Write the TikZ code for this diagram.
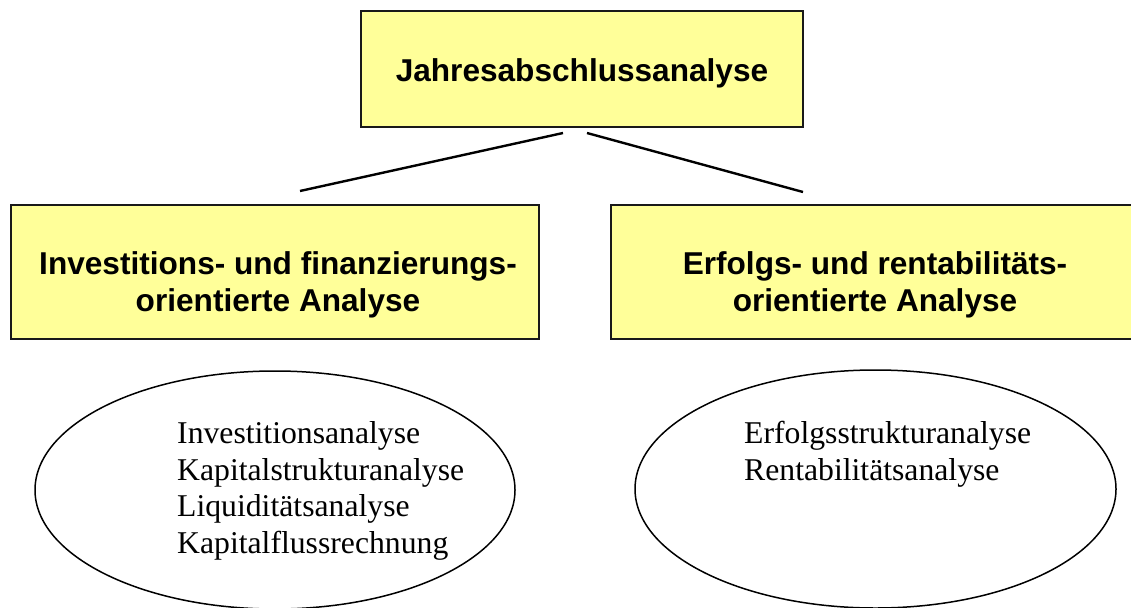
\documentclass[tikz,border=0pt]{standalone}
\usepackage{fontspec}
\setmainfont{Liberation Serif}
\setsansfont{Liberation Sans}
\usetikzlibrary{shapes.geometric}
\definecolor{boxyellow}{RGB}{255,255,153}
\begin{document}
\begin{tikzpicture}[x=1pt,y=-1pt,
  yellowbox/.style={draw=black!90, line width=2.6pt, fill=boxyellow, rectangle, inner sep=0pt},
  boxtext/.style={font=\sffamily\bfseries\fontsize{31.6}{37}\selectfont, align=center, inner sep=0pt},
  oval/.style={draw=black, line width=1.5pt, ellipse, inner sep=0pt},
  itemtext/.style={font=\fontsize{31.7}{36.5}\selectfont, anchor=base west, inner sep=0pt},
  conn/.style={line width=2.4pt}]
\useasboundingbox (0,0) rectangle (1131,607);
\begin{scope}
\clip (0,0) rectangle (1131,607);
% boxes
\node[yellowbox, minimum width=442pt, minimum height=116pt] (top) at (582,69) {};
\node[boxtext, anchor=base] (toptext) at (582,82) {Jahresabschlussanalyse};
\node[yellowbox, minimum width=528pt, minimum height=134pt] (inv) at (275,272) {};
\node[boxtext] (invtext) at (278,285) {Investitions- und finanzierungs-\\orientierte Analyse};
\node[yellowbox, minimum width=528pt, minimum height=134pt] (erf) at (875,272) {};
\node[boxtext] (erftext) at (875,285) {Erfolgs- und rentabilitäts-\\orientierte Analyse};
% connectors
\coordinate (topL) at (563,133);
\coordinate (topR) at (587,133);
\coordinate (invT) at (300,191);
\coordinate (erfT) at (803,192);
\draw[conn] (topL) -- (invT);
\draw[conn] (topR) -- (erfT);
% ellipses
\node[oval, minimum width=480pt, minimum height=238pt] (ovL) at (275,490) {};
\node[oval, minimum width=481pt, minimum height=238pt] (ovR) at (875.5,489) {};
\node[itemtext] (l1) at (177,443.5) {Investitionsanalyse};
\node[itemtext] (l2) at (177,480) {Kapitalstrukturanalyse};
\node[itemtext] (l3) at (177,516.5) {Liquiditätsanalyse};
\node[itemtext] (l4) at (177,553) {Kapitalflussrechnung};
\node[itemtext] (r1) at (744,443) {Erfolgsstrukturanalyse};
\node[itemtext] (r2) at (744,480) {Rentabilitätsanalyse};
\end{scope}
\end{tikzpicture}
\end{document}
